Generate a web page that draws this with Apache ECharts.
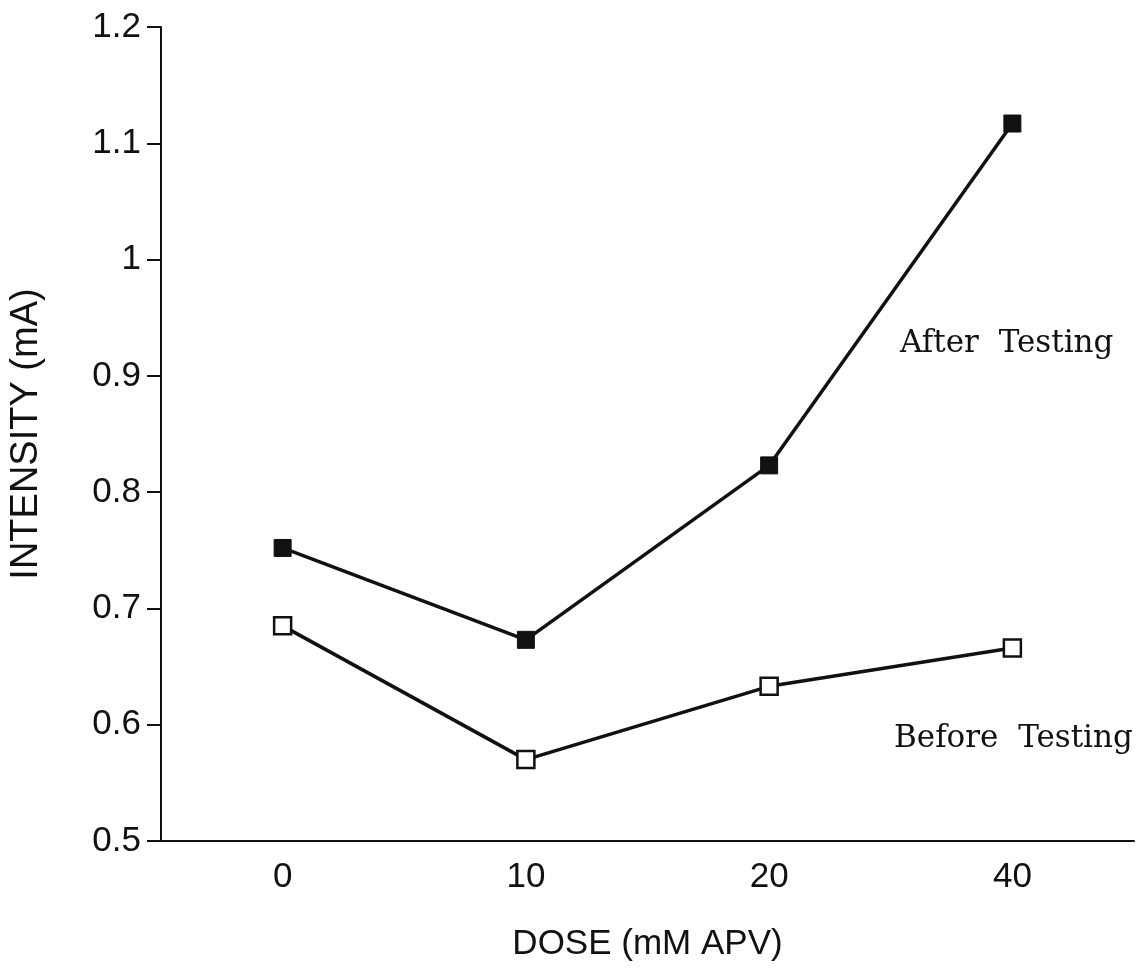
<!DOCTYPE html>
<html>
<head>
<meta charset="utf-8">
<script src="https://cdn.jsdelivr.net/npm/echarts@6/dist/echarts.min.js"></script>
<style>
  html, body { margin: 0; padding: 0; background: #fff; }
  #chart { width: 1144px; height: 968px; }
</style>
</head>
<body>
<div id="chart"></div>
<script>
// dose categories (evenly spaced on the axis)
const doses = ['0', '10', '20', '40'];
const afterTesting = [0.752, 0.673, 0.823, 1.117];
const beforeTesting = [0.685, 0.570, 0.633, 0.666];

const myChart = echarts.init(document.getElementById('chart'));
const ink = '#111';
const sans = 'Liberation Sans, Arial, sans-serif';

const option = {
  backgroundColor: '#fff',
  animation: false,
  grid: { left: 160, right: 10, top: 27, bottom: 127 },
  xAxis: {
    type: 'category',
    data: doses,
    boundaryGap: true,
    name: 'DOSE (mM APV)',
    nameLocation: 'middle',
    nameGap: 86,
    nameTextStyle: { fontFamily: sans, fontSize: 35, color: ink },
    axisLine: { lineStyle: { color: ink, width: 2 } },
    axisTick: { alignWithLabel: true, length: 14, lineStyle: { color: ink, width: 2 } },
    axisLabel: { fontFamily: sans, fontSize: 35, color: ink, margin: 19 },
    splitLine: { show: false }
  },
  yAxis: {
    type: 'value',
    min: 0.5,
    max: 1.2,
    interval: 0.1,
    name: 'INTENSITY (mA)',
    nameLocation: 'middle',
    nameGap: 115,
    nameRotate: 90,
    nameTextStyle: { fontFamily: sans, fontSize: 38, color: ink },
    axisLine: { show: true, lineStyle: { color: ink, width: 2 } },
    axisTick: { show: true, length: 14, lineStyle: { color: ink, width: 2 } },
    axisLabel: {
      fontFamily: sans, fontSize: 35, color: ink, margin: 20,
      formatter: v => String(Math.round(v * 10) / 10)
    },
    splitLine: { show: false }
  },
  series: [
    {
      name: 'After Testing',
      type: 'line',
      data: afterTesting,
      symbol: 'rect',
      symbolSize: 17,
      showAllSymbol: true,
      lineStyle: { color: ink, width: 3.5 },
      itemStyle: { color: ink, borderColor: ink, borderWidth: 1 },
      z: 3
    },
    {
      name: 'Before Testing',
      type: 'line',
      data: beforeTesting,
      symbol: 'rect',
      symbolSize: 17,
      showAllSymbol: true,
      lineStyle: { color: ink, width: 3.5 },
      itemStyle: { color: '#fff', borderColor: ink, borderWidth: 2.5 },
      z: 3
    }
  ],
  graphic: [
    {
      type: 'text', left: 900, top: 328,
      style: { text: 'After  Testing', font: '31px "DejaVu Serif", serif', fill: ink }
    },
    {
      type: 'text', left: 894, top: 723,
      style: { text: 'Before  Testing', font: '31px "DejaVu Serif", serif', fill: ink }
    }
  ]
};
myChart.setOption(option);
window.onresize = function() {
  myChart.resize();
};
</script>
</body>
</html>
